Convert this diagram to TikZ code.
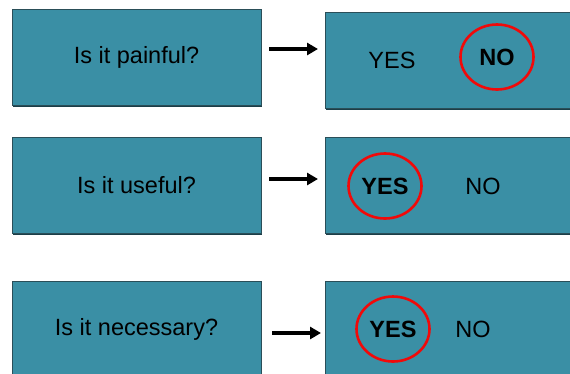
\documentclass[tikz,border=0pt]{standalone}
\usepackage{fontspec}
\setmainfont{Liberation Sans}
\usetikzlibrary{shapes.geometric,arrows.meta,shadows}
\definecolor{boxfill}{HTML}{3A8FA5}
\definecolor{boxedge}{HTML}{2A4E58}
\definecolor{boxshadow}{HTML}{1B3E48}
\definecolor{ringred}{HTML}{F00A0A}
\tikzset{
  panel/.style={rectangle, fill=boxfill, draw=boxedge, line width=0.7pt,
    general shadow={fill=boxshadow, shadow xshift=1.3pt, shadow yshift=-1.5pt},
    inner sep=0pt, minimum height=96pt, font=\fontsize{23.5}{28}\selectfont},
  qpanel/.style={panel, minimum width=249pt},
  apanel/.style={panel, minimum width=248pt},
  answer/.style={inner sep=0pt, font=\fontsize{23.5}{28}\selectfont},
  chosen/.style={ellipse, draw=ringred, line width=2.6pt, inner sep=0pt,
    minimum width=73pt, minimum height=65pt, font=\fontsize{23.5}{28}\selectfont\bfseries},
  pointer/.style={line width=3.2pt, -{Triangle[length=11pt,width=12pt]}}
}
\begin{document}
\begin{tikzpicture}[x=1pt,y=-1pt]
\useasboundingbox (0,0) rectangle (570,373);
% question boxes
\node[qpanel] (q1) at (136.5,57) {Is it painful?};
\node[qpanel] (q2) at (136.5,185) {Is it useful?};
\node[qpanel] (q3) at (136.5,329) {Is it necessary?};
% answer boxes
\node[apanel] (a1) at (449,60) {};
\node[apanel] (a2) at (449,185) {};
\node[apanel] (a3) at (449,329) {};
% answers
\node[answer] (y1) at (392,60) {YES};
\node[chosen] (n1) at (497,57) {NO};
\node[chosen] (y2) at (385,186) {YES};
\node[answer] (n2) at (483,186) {NO};
\node[chosen] (y3) at (393,329) {YES};
\node[answer] (n3) at (473,329) {NO};
% arrows
\coordinate (s1) at (269,49);
\coordinate (e1) at (318,49);
\coordinate (s2) at (269,179);
\coordinate (e2) at (318,179);
\coordinate (s3) at (272,333);
\coordinate (e3) at (321,333);
\draw[pointer] (s1) -- (e1);
\draw[pointer] (s2) -- (e2);
\draw[pointer] (s3) -- (e3);
\end{tikzpicture}
\end{document}
